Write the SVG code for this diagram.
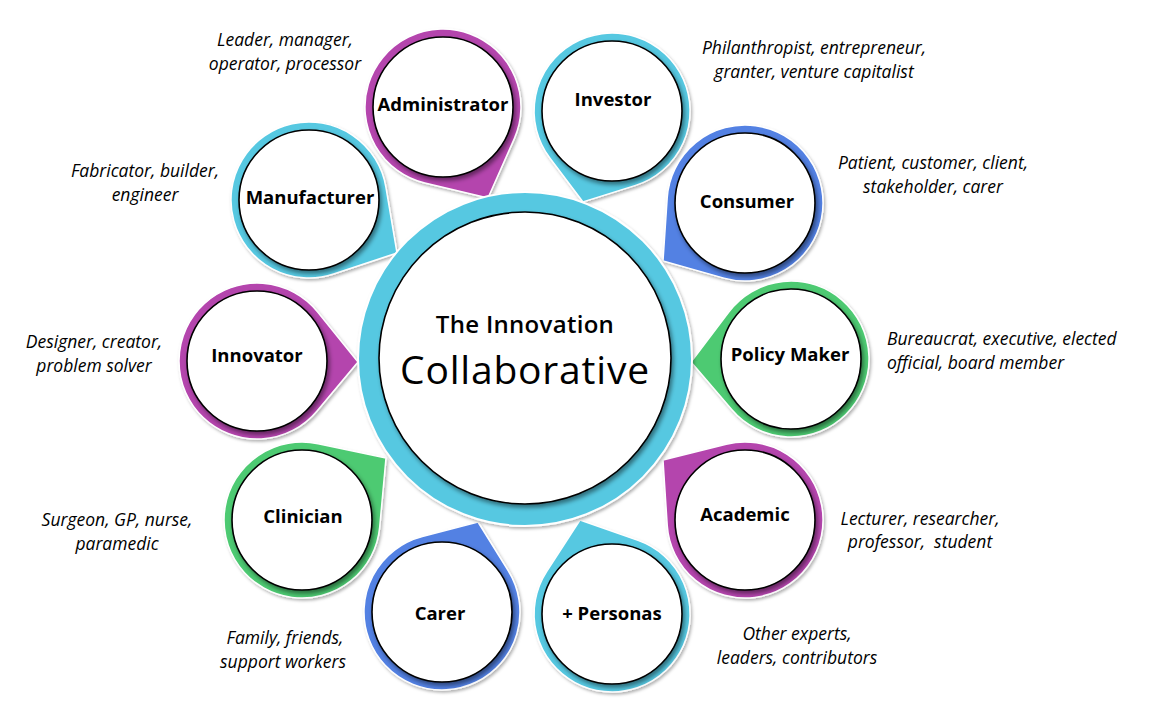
<svg xmlns="http://www.w3.org/2000/svg" width="1150" height="705" viewBox="0 0 1150 705">
<defs>
<filter id="pinShadow" x="-20%" y="-20%" width="140%" height="140%">
<feDropShadow dx="1.5" dy="2" stdDeviation="1.5" flood-color="#000" flood-opacity="0.3"/>
</filter>
<filter id="innerShadow" x="-20%" y="-20%" width="140%" height="140%">
<feDropShadow dx="2" dy="3" stdDeviation="2" flood-color="#000" flood-opacity="0.45"/>
</filter>
<style>
.pin{stroke:#fff;stroke-width:1.5;filter:url(#pinShadow)}
.purple{fill:#B444AD}
.cyan{fill:#57C8E1}
.blue{fill:#5381E3}
.green{fill:#4DCA72}
.inner{fill:#fff;stroke:#000;stroke-width:1.6;filter:url(#innerShadow)}
.label{font-family:"Open Sans","Liberation Sans",sans-serif;font-weight:700;font-size:18.5px;fill:#000;text-anchor:middle}
.desc{font-family:"Open Sans","Liberation Sans",sans-serif;font-style:italic;font-size:17.5px;fill:#000;text-anchor:middle;white-space:pre}
.title1{font-family:"Open Sans","Liberation Sans",sans-serif;font-weight:600;font-size:24px;fill:#000;text-anchor:middle;letter-spacing:0.3px}
.title2{font-family:"Open Sans","Liberation Sans",sans-serif;font-size:39px;fill:#000;text-anchor:middle;letter-spacing:0.8px}
</style>
</defs>
<rect width="1150" height="705" fill="#fff"/>
<g id="connectors"></g>

<g id="administrator">
<path class="pin purple" d="M488,198 L424.8,182.9 A78,78 0 1 1 514.3,138.6 Z"/>
<circle class="inner" cx="443" cy="107" r="70"/>
<text class="label" x="443" y="111">Administrator</text>
<text class="desc" x="285" y="46">Leader, manager,</text>
<text class="desc" x="285" y="70">operator, processor</text>
</g>

<g id="investor">
<path class="pin cyan" d="M583,202 L549.8,158.0 A78,78 0 1 1 635.6,185.4 Z"/>
<circle class="inner" cx="612" cy="111" r="70"/>
<text class="label" x="613" y="106">Investor</text>
<text class="desc" x="814" y="54">Philanthropist, entrepreneur,</text>
<text class="desc" x="814" y="78">granter, venture capitalist</text>
</g>

<g id="consumer">
<path class="pin blue" d="M663,261 L667.2,197.9 A78,78 0 1 1 723.9,278.1 Z"/>
<circle class="inner" cx="745" cy="203" r="70"/>
<text class="label" x="747" y="208">Consumer</text>
<text class="desc" x="933" y="169">Patient, customer, client,</text>
<text class="desc" x="933" y="193">stakeholder, carer</text>
</g>

<g id="policy-maker">
<path class="pin green" d="M691,362 L728.8,312.0 A78,78 0 1 1 731.7,409.6 Z"/>
<circle class="inner" cx="791" cy="359" r="70"/>
<text class="label" x="790" y="361">Policy Maker</text>
<text class="desc" x="887" y="345" style="text-anchor:start">Bureaucrat, executive, elected</text>
<text class="desc" x="887" y="369" style="text-anchor:start">official, board member</text>
</g>

<g id="academic">
<path class="pin purple" d="M663,460 L726.2,444.3 A78,78 0 1 1 667.2,525.0 Z"/>
<circle class="inner" cx="745" cy="520" r="70"/>
<text class="label" x="745" y="521">Academic</text>
<text class="desc" x="920" y="525">Lecturer, researcher,</text>
<text class="desc" x="920" y="548">professor,  student</text>
</g>

<g id="personas">
<path class="pin cyan" d="M580,520 L638.0,540.4 A78,78 0 1 1 546.6,571.6 Z"/>
<circle class="inner" cx="612" cy="614" r="70"/>
<text class="label" x="612" y="620">+ Personas</text>
<text class="desc" x="797" y="640">Other experts,</text>
<text class="desc" x="797" y="664">leaders, contributors</text>
</g>

<g id="carer">
<path class="pin blue" d="M478,522 L508.3,570.9 A78,78 0 1 1 422.3,536.5 Z"/>
<circle class="inner" cx="442" cy="612" r="70"/>
<text class="label" x="440" y="620">Carer</text>
<text class="desc" x="285" y="644">Family, friends,</text>
<text class="desc" x="283" y="668">support workers</text>
</g>

<g id="clinician">
<path class="pin green" d="M386,458 L379.7,527.1 A78,78 0 1 1 318.1,443.7 Z"/>
<circle class="inner" cx="302" cy="520" r="70"/>
<text class="label" x="303" y="523">Clinician</text>
<text class="desc" x="117" y="526">Surgeon, GP, nurse,</text>
<text class="desc" x="117" y="550">paramedic</text>
</g>

<g id="innovator">
<path class="pin purple" d="M358,362 L316.8,411.2 A78,78 0 1 1 317.7,312.1 Z"/>
<circle class="inner" cx="257" cy="361" r="70"/>
<text class="label" x="257" y="362">Innovator</text>
<text class="desc" x="94" y="348">Designer, creator,</text>
<text class="desc" x="94" y="372">problem solver</text>
</g>

<g id="manufacturer">
<path class="pin cyan" d="M397,253 L333.6,274.0 A78,78 0 1 1 385.9,187.1 Z"/>
<circle class="inner" cx="309" cy="200" r="70"/>
<text class="label" x="310" y="204">Manufacturer</text>
<text class="desc" x="145" y="177">Fabricator, builder,</text>
<text class="desc" x="145" y="201">engineer</text>
</g>

<g id="center">
<circle cx="525" cy="359" r="167" fill="#57C8E1" stroke="#fff" stroke-width="2" filter="url(#pinShadow)"/>
<circle class="inner" cx="525" cy="358" r="146"/>
<text class="title1" x="525" y="333">The Innovation</text>
<text class="title2" x="525" y="384">Collaborative</text>
</g>
</svg>
